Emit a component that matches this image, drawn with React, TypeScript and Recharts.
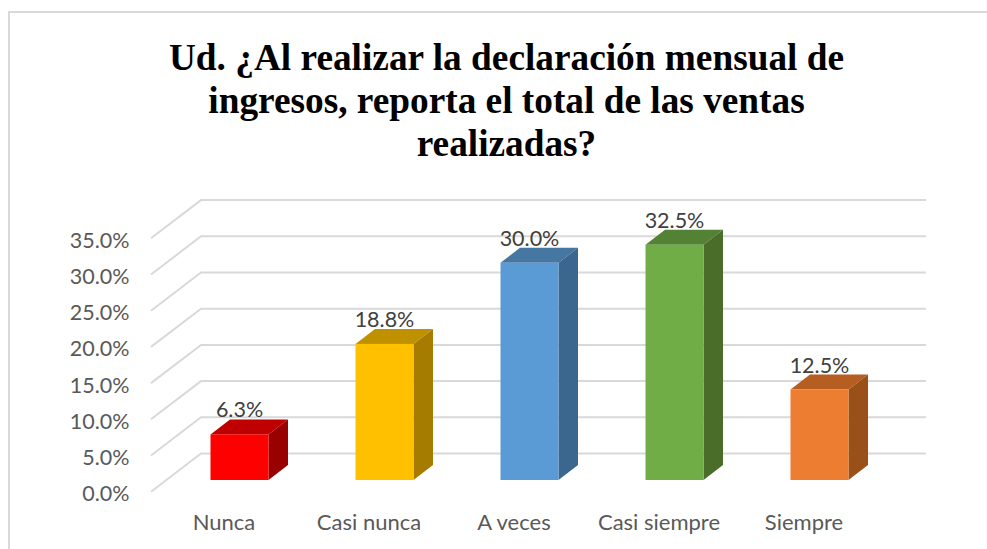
import { BarChart, Bar, XAxis, YAxis, CartesianGrid, LabelList } from "recharts";

const categories = ["Nunca", "Casi nunca", "A veces", "Casi siempre", "Siempre"];
const percentages = [6.3, 18.8, 30.0, 32.5, 12.5];
const yTicks = [0, 5, 10, 15, 20, 25, 30, 35];
const titleLines = [
    "Ud. ¿Al realizar la declaración mensual de",
    "ingresos, reporta el total de las ventas",
    "realizadas?",
];

const frontColors = ["#FF0000", "#FFC000", "#5B9BD5", "#70AD47", "#ED7D31"];
const topColors = ["#BF0000", "#BF9000", "#4676A2", "#548235", "#B65E22"];
const sideColors = ["#990000", "#A67C00", "#3B668D", "#4A6E2A", "#9A5019"];

const data = categories.map((name, i) => ({ name, value: percentages[i] }));

const FONT = "Lato, sans-serif";
const GRID = "#D9D9D9";

// fake 3D box: the front face comes from the scale, the rest is just offset
const Box3D = (props: any) => {
    const { x, y, width, height, index } = props;
    const dx = 19.5;
    const dy = 15;
    return (
        <g>
            <path
                d={`M${x},${y} L${x + dx},${y - dy} H${x + width + dx} L${x + width},${y} Z`}
                fill={topColors[index]}
            />
            <path
                d={`M${x + width},${y} L${x + width + dx},${y - dy} V${y + height - dy} L${x + width},${y + height} Z`}
                fill={sideColors[index]}
            />
            <rect x={x} y={y} width={width} height={height} fill={frontColors[index]} />
        </g>
    );
};

// floor/wall gridline: short diagonal on the left, then flat along the back wall
const WallLine = (props: any) => {
    const { y1, index } = props;
    return (
        <path
            key={index}
            d={`M151,${y1 + 11.7} L201,${y1 - 26.5} H926`}
            fill="none"
            stroke={GRID}
            strokeWidth={2}
        />
    );
};

export default function App() {
    return (
        <div style={{ position: "absolute", left: 0, top: 0, width: 987, height: 549, background: "#fff", overflow: "hidden" }}>
            <div
                style={{
                    position: "absolute",
                    left: 8,
                    top: 11,
                    width: 1000,
                    height: 600,
                    border: "2px solid #D9D9D9",
                    boxSizing: "border-box",
                }}
            />
            <div
                style={{
                    position: "absolute",
                    left: 5.5,
                    top: 36,
                    width: 1002,
                    textAlign: "center",
                    fontFamily: "'Liberation Serif', serif",
                    fontWeight: 700,
                    fontSize: 37.3,
                    lineHeight: "43px",
                    color: "#000",
                }}
            >
                {titleLines.map((line) => (
                    <div key={line}>{line}</div>
                ))}
            </div>
            <div style={{ position: "absolute", left: 0, top: 0 }}>
                <BarChart
                    width={987}
                    height={549}
                    data={data}
                    barSize={58}
                    margin={{ top: 226.6, right: 95.5, bottom: 0, left: 0 }}
                >
                    <CartesianGrid horizontal={WallLine} vertical={false} />
                    <XAxis
                        dataKey="name"
                        axisLine={false}
                        tickLine={false}
                        height={69}
                        interval={0}
                        tick={{ fill: "#595959", fontSize: 22, fontFamily: FONT, dx: -15, dy: 26 }}
                    />
                    <YAxis
                        domain={[0, 35]}
                        ticks={yTicks}
                        interval={0}
                        axisLine={false}
                        tickLine={false}
                        width={166.5}
                        tickMargin={0}
                        tickFormatter={(v: number) => `${v.toFixed(1)}%`}
                        tick={{ fill: "#595959", fontSize: 21.5, fontFamily: FONT, dx: -31, dy: 13.5 }}
                    />
                    <Bar dataKey="value" shape={Box3D} isAnimationActive={false}>
                        <LabelList
                            dataKey="value"
                            position="top"
                            offset={17}
                            formatter={(v: number) => `${v.toFixed(1)}%`}
                            style={{ fill: "#404040", fontSize: 21.5, fontFamily: FONT }}
                        />
                    </Bar>
                </BarChart>
            </div>
        </div>
    );
}
